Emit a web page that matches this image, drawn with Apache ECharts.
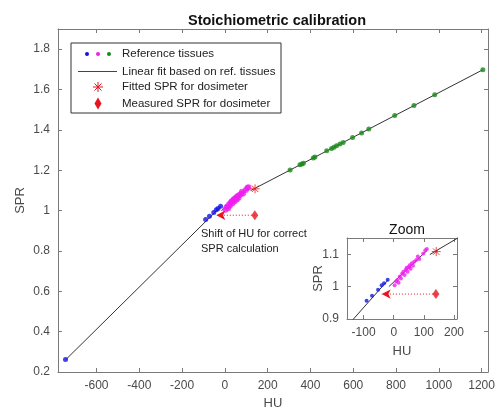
<!DOCTYPE html>
<html>
<head>
<meta charset="utf-8">
<script src="https://cdn.jsdelivr.net/npm/echarts@6/dist/echarts.min.js"></script>
<style>
  html, body { margin: 0; padding: 0; background: #fff; }
  #chart { width: 497px; height: 409px; }
</style>
</head>
<body>
<div id="chart"></div>
<script>
// reference tissues [HU, SPR]
const blueTissues = [[-745, 0.262], [-90, 0.956], [-72, 0.972], [-52, 0.99], [-40, 1.004], [-32, 1.01], [-20, 1.021]];
const magentaTissues = [[3, 1.004], [8, 1.016], [12, 1.02], [16, 1.012], [20, 1.031], [24, 1.025], [28, 1.04], [32, 1.046],
  [36, 1.036], [40, 1.052], [43, 1.058], [46, 1.046], [50, 1.06], [53, 1.066], [56, 1.055], [60, 1.072], [64, 1.064],
  [68, 1.077], [75, 1.082], [80, 1.093], [85, 1.085], [98, 1.102], [105, 1.112], [110, 1.116]];
const greenTissues = [[305, 1.201], [351, 1.227], [360, 1.231], [367, 1.235], [413, 1.261], [421, 1.265], [476, 1.296],
  [499, 1.308], [510, 1.314], [522, 1.321], [538, 1.33], [553, 1.338], [597, 1.362], [639, 1.385], [673, 1.404],
  [794, 1.471], [884, 1.521], [981, 1.574], [1206, 1.698]];
// bilinear (three segment) fit
const fitLow = [[-745, 0.26], [-19, 1.02]];
const fitSoft = [[-16, 1.0], [111, 1.112]];
const fitBone = [[120, 1.099], [1206, 1.698]];
// dosimeter
const fittedDosimeter = [[141, 1.108]];
const measuredDosimeter = [[140, 0.977]];
const shiftTarget = [-40, 0.977];
// ticks
const mainXTicks = [-600, -400, -200, 0, 200, 400, 600, 800, 1000, 1200];
const mainYTicks = [0.2, 0.4, 0.6, 0.8, 1, 1.2, 1.4, 1.6, 1.8];
const zoomXTicks = [-100, 0, 100, 200];
const zoomYTicks = [0.9, 1, 1.1];

const FONT = '"Liberation Sans", Arial, sans-serif';
const AXIS_C = '#7a7a7a';
const LABEL_C = '#4a4a4a';
const starPath = 'path://M0,-5L0,5M-5,0L5,0M-3.6,-3.6L3.6,3.6M-3.6,3.6L3.6,-3.6';

function plain(v) { return String(v); }

function axis(gridIndex, min, max, ticks, pos, name, gap, shown) {
  return {
    type: 'value', gridIndex, min, max, position: pos,
    name: shown ? name : '', nameLocation: 'middle', nameGap: gap, nameMoveOverlap: false,
    nameTextStyle: { color: LABEL_C, fontSize: 13, fontFamily: FONT },
    axisLine: { show: true, onZero: false, lineStyle: { color: AXIS_C, width: 1 } },
    axisTick: { show: true, inside: true, length: 4, customValues: ticks, lineStyle: { color: AXIS_C } },
    axisLabel: { show: shown, customValues: ticks, formatter: plain, color: LABEL_C, fontSize: 12, fontFamily: FONT, margin: 8 },
    splitLine: { show: false }
  };
}

function seriesFor(xi, yi, dot, magDot) {
  const s = [];
  [fitLow, fitSoft, fitBone].forEach(function (seg) {
    s.push({ type: 'line', xAxisIndex: xi, yAxisIndex: yi, data: seg, symbol: 'none', clip: true,
      lineStyle: { color: '#333', width: 1 }, z: 2, silent: true });
  });
  [[blueTissues, '#1414e6', dot], [magentaTissues, '#f01ef0', magDot], [greenTissues, '#1a8a1a', dot]].forEach(function (p) {
    s.push({ type: 'scatter', xAxisIndex: xi, yAxisIndex: yi, data: p[0], symbol: 'circle', symbolSize: p[2],
      clip: true, itemStyle: { color: p[1] }, z: 3 });
  });
  s.push({ type: 'line', xAxisIndex: xi, yAxisIndex: yi, clip: true, z: 4,
    data: [{ value: measuredDosimeter[0], symbol: 'none' },
           { value: shiftTarget, symbol: 'arrow', symbolSize: [7, 9], symbolRotate: 90 }],
    showSymbol: true,
    lineStyle: { color: '#e8141e', width: 1, type: [1, 2] }, itemStyle: { color: '#e8141e' } });
  s.push({ type: 'scatter', xAxisIndex: xi, yAxisIndex: yi, data: fittedDosimeter, symbol: starPath, symbolSize: 9,
    clip: true, itemStyle: { color: 'none', borderColor: '#e8141e', borderWidth: 1 }, z: 5 });
  s.push({ type: 'scatter', xAxisIndex: xi, yAxisIndex: yi, data: measuredDosimeter, symbol: 'diamond',
    symbolSize: [7, 10], clip: true, itemStyle: { color: '#e8141e' }, z: 5 });
  return s;
}

const chart = echarts.init(document.getElementById('chart'), null, { renderer: 'canvas' });
const legendText = { fill: '#222', fontSize: 11.5, fontFamily: FONT, verticalAlign: 'middle' };
function seg(x1, y1, x2, y2, color) {
  return { type: 'line', shape: { x1, y1, x2, y2 }, style: { stroke: color, lineWidth: 1 } };
}
chart.setOption({
  animation: false,
  backgroundColor: '#fff',
  title: [
    { text: 'Stoichiometric calibration', left: 272, top: 8, textAlign: 'center',
      textStyle: { fontSize: 14.5, fontWeight: 'bold', color: '#111', fontFamily: FONT } },
    { text: 'Zoom', left: 402, top: 218, textAlign: 'center',
      textStyle: { fontSize: 14, fontWeight: 'normal', color: '#111', fontFamily: FONT } }
  ],
  grid: [
    { left: 58, right: 9, top: 29, bottom: 37, containLabel: false, outerBoundsMode: 'none' },
    { left: 347, top: 238, width: 110, height: 81, containLabel: false, outerBoundsMode: 'none' }
  ],
  xAxis: [
    axis(0, -780, 1230, mainXTicks, 'bottom', 'HU', 25, true),
    axis(0, -780, 1230, mainXTicks, 'top', '', 0, false),
    axis(1, -155, 210, zoomXTicks, 'bottom', 'HU', 26, true),
    axis(1, -155, 210, zoomXTicks, 'top', '', 0, false)
  ],
  yAxis: [
    axis(0, 0.2, 1.9, mainYTicks, 'left', 'SPR', 31, true),
    axis(0, 0.2, 1.9, mainYTicks, 'right', '', 0, false),
    axis(1, 0.9, 1.15, zoomYTicks, 'left', 'SPR', 22, true),
    axis(1, 0.9, 1.15, zoomYTicks, 'right', '', 0, false)
  ],
  series: seriesFor(0, 0, 5, 6).concat(seriesFor(2, 2, 4, 4)),
  graphic: [
    { type: 'text', x: 201, y: 226, style: { text: 'Shift of HU for correct\nSPR calculation',
      fill: '#222', fontSize: 11, fontFamily: FONT, lineHeight: 15 } },
    { type: 'group', x: 71, y: 43, z: 100, children: [
      { type: 'rect', shape: { x: 0, y: 0, width: 210, height: 70 },
        style: { fill: '#fff', stroke: '#333', lineWidth: 1 } },
      { type: 'circle', shape: { cx: 16, cy: 11, r: 2 }, style: { fill: '#1414e6' } },
      { type: 'circle', shape: { cx: 27, cy: 11, r: 2 }, style: { fill: '#f01ef0' } },
      { type: 'circle', shape: { cx: 38, cy: 11, r: 2 }, style: { fill: '#1a8a1a' } },
      seg(7, 28.5, 46, 28.5, '#444'),
      seg(27, 39, 27, 49, '#e8141e'),
      seg(22, 44, 32, 44, '#e8141e'),
      seg(23.5, 40.5, 30.5, 47.5, '#e8141e'),
      seg(23.5, 47.5, 30.5, 40.5, '#e8141e'),
      { type: 'polygon', shape: { points: [[27, 54.5], [30.5, 60.5], [27, 66.5], [23.5, 60.5]] },
        style: { fill: '#e8141e' } },
      { type: 'text', x: 51, y: 11, style: Object.assign({ text: 'Reference tissues' }, legendText) },
      { type: 'text', x: 51, y: 28.5, style: Object.assign({ text: 'Linear fit based on ref. tissues' }, legendText) },
      { type: 'text', x: 51, y: 44, style: Object.assign({ text: 'Fitted SPR for dosimeter' }, legendText) },
      { type: 'text', x: 51, y: 60.5, style: Object.assign({ text: 'Measured SPR for dosimeter' }, legendText) }
    ] }
  ]
});
</script>
</body>
</html>
